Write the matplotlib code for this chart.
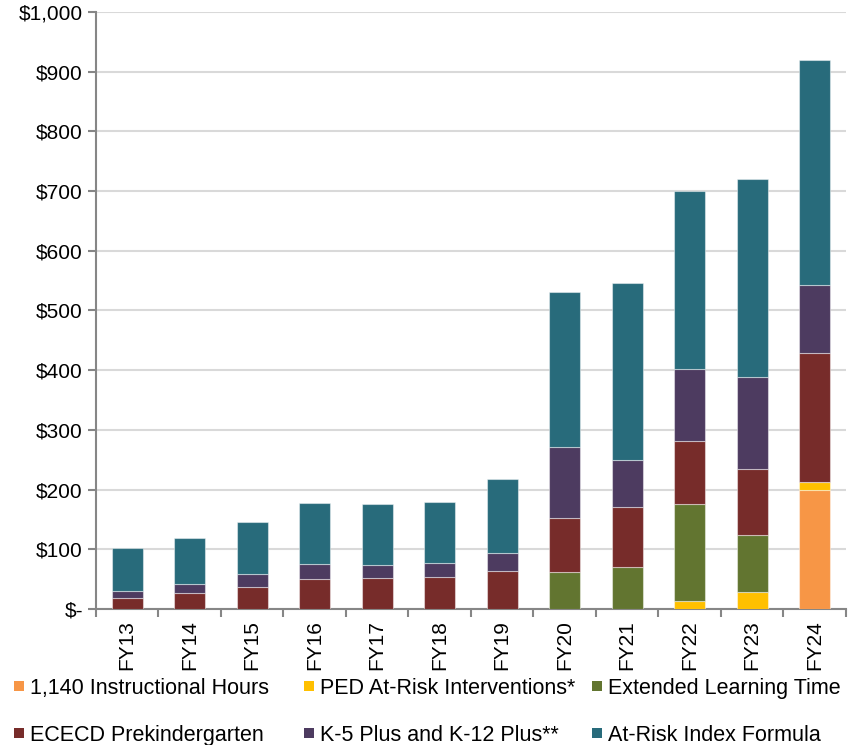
import matplotlib
matplotlib.use("Agg")
import matplotlib.pyplot as plt
from matplotlib.lines import Line2D
import numpy as np

plt.rcParams['font.family'] = ['Liberation Sans', 'DejaVu Sans']

years = ['FY13', 'FY14', 'FY15', 'FY16', 'FY17', 'FY18',
         'FY19', 'FY20', 'FY21', 'FY22', 'FY23', 'FY24']

# millions of dollars, stacked bottom to top
instructional_hours = [0, 0, 0, 0, 0, 0, 0, 0, 0, 0, 0, 199]
ped_interventions = [0, 0, 0, 0, 0, 0, 0, 0, 0, 14, 29, 14]
extended_learning = [0, 0, 0, 0, 0, 0, 0, 62, 70, 161, 95, 0]
ececd_prek = [19, 26, 37, 51, 52, 53, 63, 91, 100, 106, 111, 216]
k5_k12_plus = [11, 16, 22, 24, 22, 24, 31, 119, 80, 121, 154, 114]
at_risk_index = [72, 77, 86, 103, 101, 102, 123, 259, 296, 298, 332, 376]

series = [
    ('1,140 Instructional Hours', instructional_hours, '#F79646'),
    ('PED At-Risk Interventions*', ped_interventions, '#FFC000'),
    ('Extended Learning Time', extended_learning, '#627530'),
    ('ECECD Prekindergarten', ececd_prek, '#772C2A'),
    ('K-5 Plus and K-12 Plus**', k5_k12_plus, '#4D3B60'),
    ('At-Risk Index Formula', at_risk_index, '#286B7B'),
]

fig = plt.figure(figsize=(8.48, 7.45), dpi=100)
ax = fig.add_axes([0.1132, 0.1826, 0.8844, 0.8013])

x = np.arange(len(years))
bottom = np.zeros(len(years))
handles = []
for label, vals, color in series:
    vals = np.array(vals, dtype=float)
    ax.bar(x, vals, width=0.5, bottom=bottom, color=color,
           edgecolor=(1, 1, 1, 0.45), linewidth=0.8, zorder=3)
    handles.append(Line2D([], [], linestyle='none', marker='s', markersize=7.5,
                          markerfacecolor=color, markeredgewidth=0, label=label))
    bottom += vals

ax.set_xlim(-0.5, len(years) - 0.5)
ax.set_ylim(0, 1000)
yt = np.arange(0, 1001, 100)
ax.set_yticks(yt)
ax.set_yticklabels(['$-' if v == 0 else f'${v:,}' for v in yt], fontsize=15)
ax.yaxis.grid(True, color='#D9D9D9', linewidth=1.5, zorder=0)
ax.set_axisbelow(True)

# category labels in the middle, tick marks on the boundaries
ax.set_xticks(x)
ax.set_xticklabels(years, rotation=90, fontsize=15)
ax.tick_params(axis='x', which='major', length=0, pad=8)
ax.set_xticks(np.arange(-0.5, len(years), 1), minor=True)
ax.tick_params(axis='x', which='minor', length=6, color='#868686', width=1.5)
ax.tick_params(axis='y', length=6, color='#868686', width=1.5, direction='out')

for side in ['top', 'right']:
    ax.spines[side].set_visible(False)
for side in ['left', 'bottom']:
    ax.spines[side].set_color('#868686')
    ax.spines[side].set_linewidth(1.5)

# legend: three columns of two rows under the chart
col_x = [0.0041, 0.3461, 0.6857]
for i, cx in enumerate(col_x):
    hs = [handles[i], handles[i + 3]]
    fig.legend(handles=hs, loc='upper left',
               bbox_to_anchor=(cx, 0.1015), frameon=False,
               fontsize=15.5, handlelength=0.6,
               handletextpad=0.23, labelspacing=1.2, borderaxespad=0)

fig.savefig('out.png', dpi=100)
